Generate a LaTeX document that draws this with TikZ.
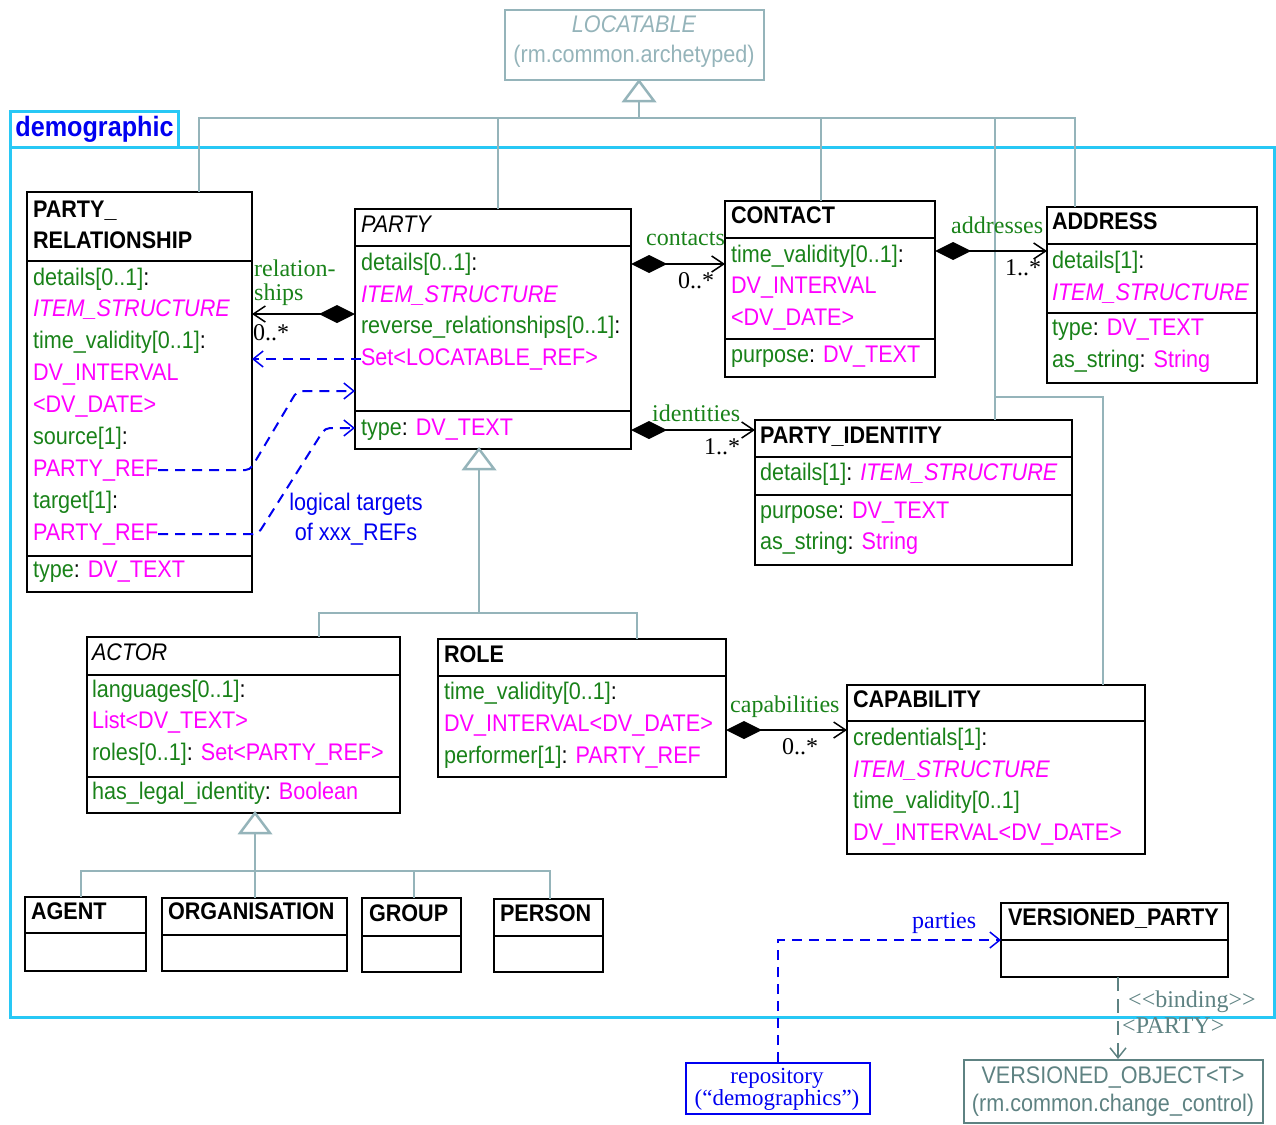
\documentclass[tikz,border=0pt]{standalone}
\usepackage{fontspec}
\setmainfont{Liberation Sans}[FakeStretch=0.9]
\newfontfamily\lserif{Liberation Serif}
\usetikzlibrary{arrows.meta}
\definecolor{ugreen}{RGB}{25,130,25}
\definecolor{umag}{RGB}{255,0,255}
\definecolor{genc}{RGB}{149,180,186}
\definecolor{pkgc}{RGB}{40,200,245}
\definecolor{tealc}{RGB}{94,130,130}
\definecolor{ublue}{RGB}{0,0,240}
\newcommand\gr[1]{\textcolor{ugreen}{#1}}
\newcommand\mg[1]{\textcolor{umag}{#1}}
\newcommand\ufs{\fontsize{24pt}{28pt}\selectfont}
\newcommand\usf{\lserif\fontsize{24pt}{28pt}\selectfont}
\tikzset{
  cls/.style={draw, line width=1.5pt, inner sep=0pt, outer sep=0pt, anchor=north west},
  txt/.style={anchor=base west, inner sep=0pt, outer sep=0pt, font=\ufs},
  ttl/.style={txt, font=\ufs\bfseries},
  itl/.style={txt, font=\ufs\itshape},
  lbl/.style={anchor=base west, inner sep=0pt, font=\usf},
  gen/.style={draw=genc, line width=2.5pt},
  divl/.style={line width=1.5pt},
  assoc/.style={line width=2pt, arrows={Diamond[length=36pt,width=18pt]-Straight Barb[length=12pt,width=16pt,line width=1.5pt]}},
  dlink/.style={draw=ublue, line width=2pt, dash pattern=on 10pt off 7pt, arrows={-Straight Barb[length=10pt,width=16pt,line width=1.5pt]}},
  bindl/.style={draw=tealc, line width=2pt, dash pattern=on 14pt off 8pt, arrows={-Straight Barb[length=10pt,width=16pt,line width=1.5pt]}}
}
\newcommand\clsdiv[2]{\draw[divl] (#1.west |- 0,#2) -- (#1.east |- 0,#2);}
\newcommand\gentri[1]{\draw[gen, fill=white] (#1) -- ++(-15,20) -- ++(30,0) -- cycle;}
\begin{document}
\begin{tikzpicture}[x=1pt, y=-1pt]
\useasboundingbox (0,0) rectangle (1276,1124);
% package frame
\node[draw=pkgc, line width=3pt, inner sep=0pt, anchor=north west, minimum width=1264pt, minimum height=870pt] (pkg) at (9,146) {};
\node[draw=pkgc, line width=3pt, inner sep=0pt, anchor=north west, minimum width=168pt, minimum height=36pt, font=\fontsize{28pt}{32pt}\selectfont\bfseries, text=ublue] (tab) at (9,110) {demographic};

% LOCATABLE
\node[draw=genc, line width=2pt, inner sep=0pt, anchor=north west, minimum width=259pt, minimum height=70pt] (loc) at (504,9) {};
\node[anchor=base, inner sep=0pt, font=\ufs\itshape, text=genc] (loc-t1) at (634,33) {LOCATABLE};
\node[anchor=base, inner sep=0pt, font=\ufs, text=genc] (loc-t2) at (634,63) {(rm.common.archetyped)};

% class boxes
\node[cls, minimum width=225pt, minimum height=400pt] (pr) at (27,192) {};
\node[cls, minimum width=276pt, minimum height=240pt] (party) at (355,209) {};
\node[cls, minimum width=210pt, minimum height=176pt] (contact) at (725,201) {};
\node[cls, minimum width=210pt, minimum height=176pt] (addr) at (1047,207) {};
\node[cls, minimum width=317pt, minimum height=145pt] (pid) at (755,420) {};
\node[cls, minimum width=313pt, minimum height=176pt] (actor) at (87,637) {};
\node[cls, minimum width=288pt, minimum height=138pt] (role) at (438,639) {};
\node[cls, minimum width=298pt, minimum height=169pt] (cap) at (847,685) {};
\node[cls, minimum width=121pt, minimum height=74pt] (agent) at (25,897) {};
\node[cls, minimum width=185pt, minimum height=73pt] (org) at (162,898) {};
\node[cls, minimum width=99pt, minimum height=74pt] (group) at (362,898) {};
\node[cls, minimum width=109pt, minimum height=73pt] (person) at (494,899) {};
\node[cls, minimum width=227pt, minimum height=74pt] (vp) at (1001,903) {};
\node[draw=tealc, line width=2pt, inner sep=0pt, anchor=north west, minimum width=299pt, minimum height=63pt] (vo) at (963,1059) {};
\node[draw=ublue, line width=2pt, inner sep=0pt, anchor=north west, minimum width=184pt, minimum height=51pt] (repo) at (685,1062) {};

% dividers
\clsdiv{pr}{261} \clsdiv{pr}{556}
\clsdiv{party}{246} \clsdiv{party}{411}
\clsdiv{contact}{238} \clsdiv{contact}{339}
\clsdiv{addr}{244} \clsdiv{addr}{313}
\clsdiv{pid}{457} \clsdiv{pid}{495}
\clsdiv{actor}{675} \clsdiv{actor}{777}
\clsdiv{role}{676}
\clsdiv{cap}{721}
\clsdiv{agent}{933} \clsdiv{org}{935} \clsdiv{group}{936} \clsdiv{person}{936}
\clsdiv{vp}{940}

% generalisation: LOCATABLE
\gentri{loc.south -| 639,0}
\coordinate (locbase) at (639,101);
\draw[gen] (locbase) -- (639,118);
\draw[gen] (pr.north -| 199,0) -- (199,118) -- (1075,118) -- (addr.north -| 1075,0);
\draw[gen] (party.north -| 498,0) -- (498,118);
\draw[gen] (contact.north -| 821,0) -- (821,118);
\draw[gen] (995,118) -- (pid.north -| 995,0);
\draw[gen] (995,397) -- (1103,397) -- (cap.north -| 1103,0);

% generalisation: PARTY
\gentri{party.south -| 479,0}
\draw[gen] (479,469) -- (479,613);
\draw[gen] (actor.north -| 319,0) -- (319,613) -- (637,613) -- (role.north -| 637,0);

% generalisation: ACTOR
\gentri{actor.south -| 255,0}
\draw[gen] (255,833) -- (org.north -| 255,0);
\draw[gen] (agent.north -| 81,0) -- (81,871) -- (550,871) -- (person.north -| 550,0);
\draw[gen] (414,871) -- (group.north -| 414,0);

% PARTY_RELATIONSHIP
\node[ttl] (pr-t1) at (33,217) {PARTY\_};
\node[ttl] (pr-t2) at (33,248) {RELATIONSHIP};
\node[txt] (pr-a1) at (33,285) {\gr{details[0..1]}:};
\node[txt] (pr-a2) at (33,316) {\mg{\itshape ITEM\_STRUCTURE}};
\node[txt] (pr-a3) at (33,348) {\gr{time\_validity[0..1]}:};
\node[txt] (pr-a4) at (33,380) {\mg{DV\_INTERVAL}};
\node[txt] (pr-a5) at (33,412) {\mg{<DV\_DATE>}};
\node[txt] (pr-a6) at (33,444) {\gr{source[1]}:};
\node[txt] (srcref) at (33,476) {\mg{PARTY\_REF}};
\node[txt] (pr-a8) at (33,508) {\gr{target[1]}:};
\node[txt] (tgtref) at (33,540) {\mg{PARTY\_REF}};
\node[txt] (pr-a10) at (33,577) {\gr{type}: \mg{DV\_TEXT}};

% PARTY
\node[itl] (pa-t) at (361,232) {PARTY};
\node[txt] (pa-a1) at (361,270) {\gr{details[0..1]}:};
\node[txt] (pa-a2) at (361,302) {\mg{\itshape ITEM\_STRUCTURE}};
\node[txt] (pa-a3) at (361,333) {\gr{reverse\_relationships[0..1]}:};
\node[txt] (setloc) at (361,365) {\mg{Set<LOCATABLE\_REF>}};
\node[txt] (pa-a5) at (361,435) {\gr{type}: \mg{DV\_TEXT}};

% CONTACT
\node[ttl] (co-t) at (731,223) {CONTACT};
\node[txt] (co-a1) at (731,262) {\gr{time\_validity[0..1]}:};
\node[txt] (co-a2) at (731,293) {\mg{DV\_INTERVAL}};
\node[txt] (co-a3) at (731,325) {\mg{<DV\_DATE>}};
\node[txt] (co-a4) at (731,362) {\gr{purpose}: \mg{DV\_TEXT}};

% ADDRESS
\node[ttl] (ad-t) at (1052,229) {ADDRESS};
\node[txt] (ad-a1) at (1052,268) {\gr{details[1]}:};
\node[txt] (ad-a2) at (1052,300) {\mg{\itshape ITEM\_STRUCTURE}};
\node[txt] (ad-a3) at (1052,335) {\gr{type}: \mg{DV\_TEXT}};
\node[txt] (ad-a4) at (1052,367) {\gr{as\_string}: \mg{String}};

% PARTY_IDENTITY
\node[ttl] (pi-t) at (760,443) {PARTY\_IDENTITY};
\node[txt] (pi-a1) at (760,480) {\gr{details[1]}: \mg{\itshape ITEM\_STRUCTURE}};
\node[txt] (pi-a2) at (760,518) {\gr{purpose}: \mg{DV\_TEXT}};
\node[txt] (pi-a3) at (760,549) {\gr{as\_string}: \mg{String}};

% ACTOR
\node[itl] (ac-t) at (92,660) {ACTOR};
\node[txt] (ac-a1) at (92,697) {\gr{languages[0..1]}:};
\node[txt] (ac-a2) at (92,728) {\mg{List<DV\_TEXT>}};
\node[txt] (ac-a3) at (92,760) {\gr{roles[0..1]}: \mg{Set<PARTY\_REF>}};
\node[txt] (ac-a4) at (92,799) {\gr{has\_legal\_identity}: \mg{Boolean}};

% ROLE
\node[ttl] (ro-t) at (444,662) {ROLE};
\node[txt] (ro-a1) at (444,699) {\gr{time\_validity[0..1]}:};
\node[txt] (ro-a2) at (444,731) {\mg{DV\_INTERVAL<DV\_DATE>}};
\node[txt] (ro-a3) at (444,763) {\gr{performer[1]}: \mg{PARTY\_REF}};

% CAPABILITY
\node[ttl] (ca-t) at (853,707) {CAPABILITY};
\node[txt] (ca-a1) at (853,745) {\gr{credentials[1]}:};
\node[txt] (ca-a2) at (853,777) {\mg{\itshape ITEM\_STRUCTURE}};
\node[txt] (ca-a3) at (853,808) {\gr{time\_validity[0..1]}};
\node[txt] (ca-a4) at (853,840) {\mg{DV\_INTERVAL<DV\_DATE>}};

% small boxes
\node[ttl] (ag-t) at (31,919) {AGENT};
\node[ttl] (or-t) at (168,919) {ORGANISATION};
\node[ttl] (gr-t) at (369,921) {GROUP};
\node[ttl] (pe-t) at (500,921) {PERSON};
\node[ttl] (vp-t) at (1008,925) {VERSIONED\_PARTY};

% VERSIONED_OBJECT and repository texts
\node[anchor=base, inner sep=0pt, font=\ufs, text=tealc] (vo-t1) at (1113,1083) {VERSIONED\_OBJECT<T>};
\node[anchor=base, inner sep=0pt, font=\ufs, text=tealc] (vo-t2) at (1113,1111) {(rm.common.change\_control)};
\node[anchor=base, inner sep=0pt, font=\lserif\fontsize{23pt}{26pt}\selectfont, text=ublue] (re-t1) at (777,1083) {repository};
\node[anchor=base, inner sep=0pt, font=\lserif\fontsize{23pt}{26pt}\selectfont, text=ublue] (re-t2) at (777,1105) {(“demographics”)};

% associations
\draw[assoc] (party.west |- 0,314) -- (pr.east |- 0,314);
\draw[assoc] (party.east |- 0,264) -- (contact.west |- 0,264);
\draw[assoc] (contact.east |- 0,251) -- (addr.west |- 0,251);
\draw[assoc] (party.east |- 0,430) -- (pid.west |- 0,430);
\draw[assoc] (role.east |- 0,730) -- (cap.west |- 0,730);

% association labels
\node[lbl, text=ugreen] (l-rel1) at (254,276) {relation-};
\node[lbl, text=ugreen] (l-rel2) at (254,300) {ships};
\node[lbl] (m-rel) at (253,340) {0..*};
\node[lbl, text=ugreen] (l-con) at (646,245) {contacts};
\node[lbl] (m-con) at (678,288) {0..*};
\node[lbl, text=ugreen] (l-add) at (951,233) {addresses};
\node[lbl] (m-add) at (1005,275) {1..*};
\node[lbl, text=ugreen] (l-ide) at (652,421) {identities};
\node[lbl] (m-ide) at (704,454) {1..*};
\node[lbl, text=ugreen] (l-cap) at (730,712) {capabilities};
\node[lbl] (m-cap) at (782,754) {0..*};

% logical reference links
\draw[dlink] (setloc.west) -- (pr.east |- setloc.west);
\draw[dlink, rounded corners=5pt] (srcref.east) -- (srcref.east -| 250,0) -- (297,391) -- (party.west |- 0,391);
\draw[dlink, rounded corners=5pt] (tgtref.east) -- (tgtref.east -| 258,0) -- (325,428) -- (party.west |- 0,428);
\node[anchor=base, inner sep=0pt, font=\ufs, text=ublue] (lt1) at (356,510) {logical targets};
\node[anchor=base, inner sep=0pt, font=\ufs, text=ublue] (lt2) at (356,540) {of xxx\_REFs};

% parties
\draw[dlink] (repo.north) |- (vp.west |- 0,940);
\node[lbl, text=ublue] (l-par) at (912,928) {parties};

% binding
\draw[bindl] (vp.south -| 1118,0) -- (vo.north -| 1118,0);
\node[lbl, text=tealc] (l-bi1) at (1128,1007) {<<binding>>};
\node[lbl, text=tealc] (l-bi2) at (1122,1033) {<PARTY>};
\end{tikzpicture}
\end{document}
